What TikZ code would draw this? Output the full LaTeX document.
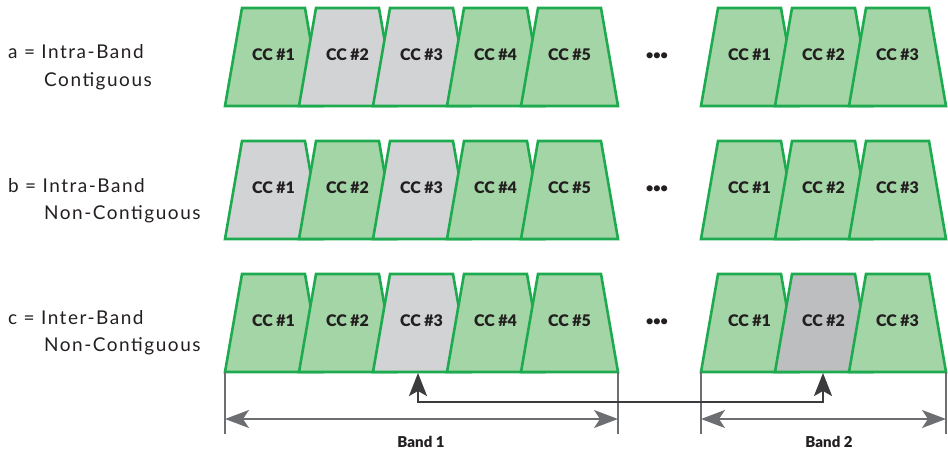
\documentclass[tikz,border=0pt]{standalone}
\usepackage{fontspec}
\setmainfont{Lato}
\newfontfamily\rowfont[LetterSpace=8]{Lato}
\newfontfamily\heavyfont{Lato Black}
\usetikzlibrary{arrows.meta,calc}
\definecolor{ccgreen}{HTML}{A4D5A6}
\definecolor{ccedge}{HTML}{1EAA4F}
\definecolor{ccgray}{HTML}{D1D3D4}
\definecolor{ccdark}{HTML}{BDBEC0}
\definecolor{brgray}{HTML}{6D6E71}
\definecolor{conncol}{HTML}{3C3B3D}
\definecolor{txt}{HTML}{231F20}
\newcommand\ccbox[5]{%
  \filldraw[ccshape, fill=#4] ({#2},{#3+98}) -- ({#2+17},{#3}) -- ({#2+80},{#3}) -- ({#2+97},{#3+98}) -- cycle;
  \node[cclabel] (#1) at ({#2+48.5},{#3+47}) {CC \##5};
}
\tikzset{
  ccshape/.style={draw=ccedge, line width=2.6pt, line join=miter},
  cclabel/.style={font=\fontsize{16}{18}\selectfont\heavyfont, text=txt, inner sep=0pt},
  rowlabel/.style={font=\fontsize{19}{21}\selectfont\rowfont, text=txt, anchor=base west, inner sep=0pt},
  dots/.style={font=\fontsize{12.5}{20}\selectfont\heavyfont, text=txt, inner sep=0pt},
  bandtick/.style={draw=brgray, line width=2pt},
  bandarrow/.style={draw=brgray, line width=2pt, {Stealth[length=24pt,width=18pt,inset=6pt]}-{Stealth[length=24pt,width=18pt,inset=6pt]}},
  connector/.style={draw=conncol, line width=2.3pt, {Stealth[length=23pt,width=18pt,inset=5pt]}-{Stealth[length=23pt,width=18pt,inset=5pt]}},
  bandlabel/.style={font=\fontsize{15}{18}\selectfont\heavyfont, text=txt, inner sep=0pt},
}
\begin{document}
\begin{tikzpicture}[x=1pt,y=-1pt]
\useasboundingbox (0,0) rectangle (948,452);
% row a
\ccbox{a1}{225}{8}{ccgreen}{1}
\ccbox{a2}{299}{8}{ccgray}{2}
\ccbox{a3}{373}{8}{ccgray}{3}
\ccbox{a4}{447}{8}{ccgreen}{4}
\ccbox{a5}{521}{8}{ccgreen}{5}
\ccbox{aB1}{701}{8}{ccgreen}{1}
\ccbox{aB2}{775}{8}{ccgreen}{2}
\ccbox{aB3}{849}{8}{ccgreen}{3}
% row b
\ccbox{b1}{225}{141}{ccgray}{1}
\ccbox{b2}{299}{141}{ccgreen}{2}
\ccbox{b3}{373}{141}{ccgray}{3}
\ccbox{b4}{447}{141}{ccgreen}{4}
\ccbox{b5}{521}{141}{ccgreen}{5}
\ccbox{bB1}{701}{141}{ccgreen}{1}
\ccbox{bB2}{775}{141}{ccgreen}{2}
\ccbox{bB3}{849}{141}{ccgreen}{3}
% row c
\ccbox{c1}{225}{274}{ccgreen}{1}
\ccbox{c2}{299}{274}{ccgreen}{2}
\ccbox{c3}{373}{274}{ccgray}{3}
\ccbox{c4}{447}{274}{ccgreen}{4}
\ccbox{c5}{521}{274}{ccgreen}{5}
\ccbox{cB1}{701}{274}{ccgreen}{1}
\ccbox{cB2}{775}{274}{ccdark}{2}
\ccbox{cB3}{849}{274}{ccgreen}{3}
% ellipses
\node[dots] (da) at (657,56) {•••};
\node[dots] (db) at (657,189) {•••};
\node[dots] (dc) at (657,322) {•••};
% row labels
\node[rowlabel] (la1) at (8,59) {a = Intra-Band};
\node[rowlabel] (la2) at (44,86) {Contiguous};
\node[rowlabel] (lb1) at (8,192) {b = Intra-Band};
\node[rowlabel] (lb2) at (44,219) {Non-Contiguous};
\node[rowlabel] (lc1) at (8,324) {c = Inter-Band};
\node[rowlabel] (lc2) at (44,351) {Non-Contiguous};
% band brackets
\coordinate (t1a) at (225,372); \coordinate (t1b) at (225,434);
\coordinate (t2a) at (618,372); \coordinate (t2b) at (618,434);
\coordinate (t3a) at (701,372); \coordinate (t3b) at (701,434);
\coordinate (t4a) at (946,372); \coordinate (t4b) at (946,434);
\draw[bandtick] (t1a) -- (t1b);
\draw[bandtick] (t2a) -- (t2b);
\draw[bandtick] (t3a) -- (t3b);
\draw[bandtick] (t4a) -- (t4b);
\coordinate (arr) at (0,419);
\draw[bandarrow] (t1a |- arr) -- (t2a |- arr);
\draw[bandarrow] (t3a |- arr) -- (t4a |- arr);
\node[bandlabel] (band1) at (421,442) {Band 1};
\node[bandlabel] (band2) at (829,442) {Band 2};
% connector
\coordinate (p1) at (418,373);
\coordinate (p2) at (823,373);
\coordinate (bus) at (0,402);
\draw[connector] (p1) -- (p1 |- bus) -- (p2 |- bus) -- (p2);
\end{tikzpicture}
\end{document}
